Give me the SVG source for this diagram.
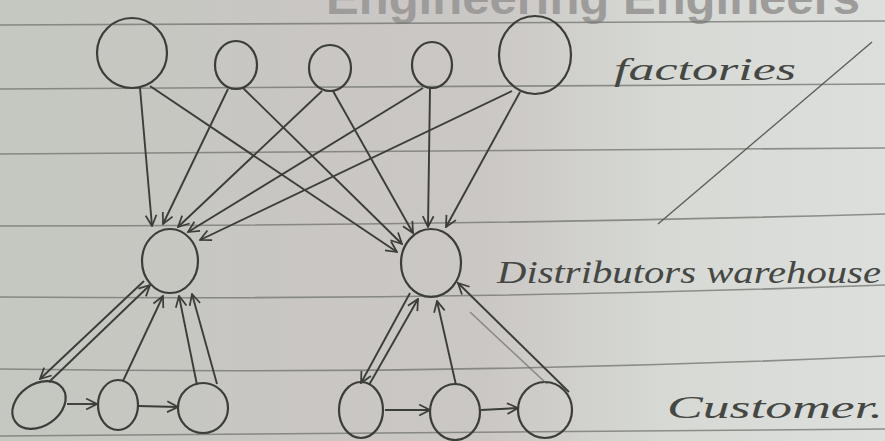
<svg xmlns="http://www.w3.org/2000/svg" width="885" height="441" viewBox="0 0 885 441">
  <defs>
    <linearGradient id="paper" x1="0" y1="0" x2="1" y2="0">
      <stop offset="0" stop-color="#c4c8c0"/>
      <stop offset="0.35" stop-color="#c9c6c3"/>
      <stop offset="0.55" stop-color="#cbc7c5"/>
      <stop offset="0.75" stop-color="#d6d9d4"/>
      <stop offset="1" stop-color="#dcdfdb"/>
    </linearGradient>
    <marker id="ah" viewBox="0 0 12 12" refX="11" refY="6" markerWidth="13" markerHeight="13" markerUnits="userSpaceOnUse" orient="auto">
      <path d="M1,1 L11,6 L1,11" fill="none" stroke="#3b3d39" stroke-width="1.6"/>
    </marker>
    <style>
      .rule { fill: none; stroke: #70736e; stroke-width: 1.6; opacity: 0.75; }
      .node { fill: none; stroke: #3b3d39; stroke-width: 2.2; }
      .edge { fill: none; stroke: #3b3d39; stroke-width: 1.9; marker-end: url(#ah); }
      .faint { fill: none; stroke: #6c6a68; stroke-width: 1.5; opacity: 0.7; }
      .hand { font-family: "Liberation Serif", "DejaVu Serif", serif; font-style: italic; fill: #454743; }
    </style>
  </defs>

  <rect x="0" y="0" width="885" height="441" fill="url(#paper)"/>

  <!-- printed notebook header (cut off at top) -->
  <text x="326" y="14" font-family="Liberation Sans, Arial, sans-serif" font-weight="bold" font-size="46" fill="#9d9c9a" textLength="534" lengthAdjust="spacingAndGlyphs">Engineering Engineers</text>

  <!-- ruled lines -->
  <g id="rules">
    <path class="rule" d="M0,25 L885,21"/>
    <path class="rule" d="M0,89 L885,84"/>
    <path class="rule" d="M0,154 L885,148"/>
    <path class="rule" d="M0,226 Q450,226 885,214"/>
    <path class="rule" d="M0,297 Q450,301 885,285"/>
    <path class="rule" d="M0,369 Q450,376 885,356"/>
    <path class="rule" d="M0,436 L885,429"/>
  </g>

  <!-- stray pencil line -->
  <path d="M658,224 L872,42" fill="none" stroke="#5c5e5a" stroke-width="1.4"/>

  <!-- factories -->
  <g id="factory1"><ellipse class="node" cx="132" cy="53" rx="35" ry="35"/></g>
  <g id="factory2"><ellipse class="node" cx="236" cy="65" rx="21" ry="24"/></g>
  <g id="factory3"><ellipse class="node" cx="330" cy="68" rx="21" ry="23"/></g>
  <g id="factory4"><ellipse class="node" cx="432" cy="65" rx="20" ry="23"/></g>
  <g id="factory5"><ellipse class="node" cx="535" cy="55" rx="36" ry="39"/></g>

  <!-- distributors warehouses -->
  <g id="warehouse1"><ellipse class="node" cx="170" cy="261" rx="28" ry="32"/></g>
  <g id="warehouse2"><ellipse class="node" cx="431" cy="263" rx="30" ry="34"/></g>

  <!-- customers -->
  <g id="customer1"><ellipse class="node" cx="39" cy="405" rx="29" ry="21" transform="rotate(-35 39 405)"/></g>
  <g id="customer2"><ellipse class="node" cx="118" cy="405" rx="20" ry="25"/></g>
  <g id="customer3"><ellipse class="node" cx="203" cy="408" rx="25" ry="25"/></g>
  <g id="customer4"><ellipse class="node" cx="361" cy="410" rx="22" ry="28"/></g>
  <g id="customer5"><ellipse class="node" cx="455" cy="412" rx="25" ry="28"/></g>
  <g id="customer6"><ellipse class="node" cx="545" cy="410" rx="27" ry="28"/></g>

  <!-- connectors -->
  <g id="connectors">
    <!-- factories to warehouse 1 -->
    <path class="edge" d="M140,88 L152,226"/>
    <path class="edge" d="M228,89 L163,224"/>
    <path class="edge" d="M322,91 L178,227"/>
    <path class="edge" d="M423,88 L188,232"/>
    <path class="edge" d="M512,91 L200,240"/>
    <!-- factories to warehouse 2 -->
    <path class="edge" d="M150,86 L397,252"/>
    <path class="edge" d="M243,88 L402,244"/>
    <path class="edge" d="M333,91 L413,233"/>
    <path class="edge" d="M430,88 L428,227"/>
    <path class="edge" d="M520,92 L446,227"/>
    <!-- warehouse 1 and its customers -->
    <path class="edge" d="M144,281 L40,379"/>
    <path class="edge" d="M49,382 L150,285"/>
    <path class="edge" d="M123,381 L163,296"/>
    <path class="edge" d="M197,385 L179,296"/>
    <path class="edge" d="M217,384 L192,294"/>
    <path class="edge" d="M67,404 L97,404"/>
    <path class="edge" d="M138,406 L178,407"/>
    <!-- warehouse 2 and its customers -->
    <path class="edge" d="M410,293 L361,383"/>
    <path class="edge" d="M369,385 L418,299"/>
    <path class="edge" d="M456,385 L437,301"/>
    <path class="edge" d="M569,392 L458,283"/>
    <path class="faint" d="M470,312 L547,384"/>
    <path class="edge" d="M385,410 L430,410"/>
    <path class="edge" d="M481,410 L518,408"/>
  </g>

  <!-- labels -->
  <text class="hand" x="614" y="80" font-size="32" textLength="182" lengthAdjust="spacingAndGlyphs">factories</text>
  <text class="hand" x="497" y="283" font-size="32" textLength="384" lengthAdjust="spacingAndGlyphs">Distributors warehouse</text>
  <text class="hand" x="667" y="418" font-size="32" textLength="216" lengthAdjust="spacingAndGlyphs">Customer.</text>
</svg>
